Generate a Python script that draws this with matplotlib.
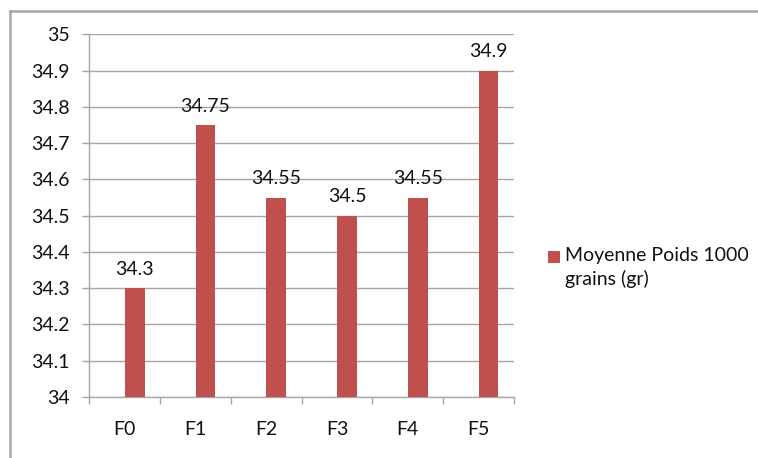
import matplotlib
matplotlib.use("Agg")
import matplotlib.pyplot as plt
from matplotlib.lines import Line2D
from matplotlib.patches import Rectangle
import numpy as np

categories = ["F0", "F1", "F2", "F3", "F4", "F5"]
values = [34.3, 34.75, 34.55, 34.5, 34.55, 34.9]
value_labels = ["34.3", "34.75", "34.55", "34.5", "34.55", "34.9"]
series_name = "Moyenne Poids 1000\ngrains (gr)"
y_ticks = [34, 34.1, 34.2, 34.3, 34.4, 34.5, 34.6, 34.7, 34.8, 34.9, 35]
y_tick_labels = ["34", "34.1", "34.2", "34.3", "34.4", "34.5", "34.6", "34.7", "34.8", "34.9", "35"]

plt.rcParams["font.family"] = ["Lato", "DejaVu Sans"]
bar_color = "#C0504D"
grid_color = "#A6A6A6"
text_color = "#111111"
fs = 14

W, H = 758, 458
fig = plt.figure(figsize=(W / 100, H / 100), dpi=100)
ax = fig.add_axes([0.118, 0.1332, 0.560, 0.7918])

x = np.arange(len(categories))
bar_w = 0.28
bars = ax.bar(x + bar_w / 2, values, width=bar_w, color=bar_color, zorder=3)
ax.bar_label(bars, labels=value_labels, padding=7.5, fontsize=fs, color=text_color)

ax.set_xlim(-0.5, len(categories) - 0.5)
ax.set_ylim(34, 35)
ax.set_yticks(y_ticks)
ax.set_yticklabels(y_tick_labels)
ax.yaxis.grid(True, color=grid_color, linewidth=1.0, zorder=0)
ax.set_axisbelow(True)

ax.set_xticks(x)
ax.set_xticklabels(categories)
ax.set_xticks(np.arange(-0.5, len(categories)), minor=True)
ax.tick_params(axis="x", which="major", length=0, pad=17, labelsize=fs, labelcolor=text_color)
ax.tick_params(axis="x", which="minor", length=5, width=1, color=grid_color, direction="out")
ax.tick_params(axis="y", length=5, width=1, color=grid_color, pad=9, labelsize=fs, labelcolor=text_color)

for side in ("top", "right"):
    ax.spines[side].set_visible(False)
for side in ("left", "bottom"):
    ax.spines[side].set_color(grid_color)
    ax.spines[side].set_linewidth(1.0)

# Outer chart frame (left and top edges)
fig.add_artist(Line2D([10 / W, 10 / W], [0, 1 - 11 / H], transform=fig.transFigure,
                      color=grid_color, linewidth=1.8))
fig.add_artist(Line2D([10 / W, 1], [1 - 11 / H, 1 - 11 / H], transform=fig.transFigure,
                      color=grid_color, linewidth=1.8))

# Legend: colour key next to the first line of the series name
fig.add_artist(Rectangle((548 / W, 1 - 263 / H), 12 / W, 12 / H, transform=fig.transFigure,
                         facecolor=bar_color, edgecolor="none"))
fig.text(565 / W, 1 - 247 / H, series_name, fontsize=fs, color=text_color,
         va="top", ha="left", linespacing=1.4)

fig.savefig("out.png", dpi=100)
